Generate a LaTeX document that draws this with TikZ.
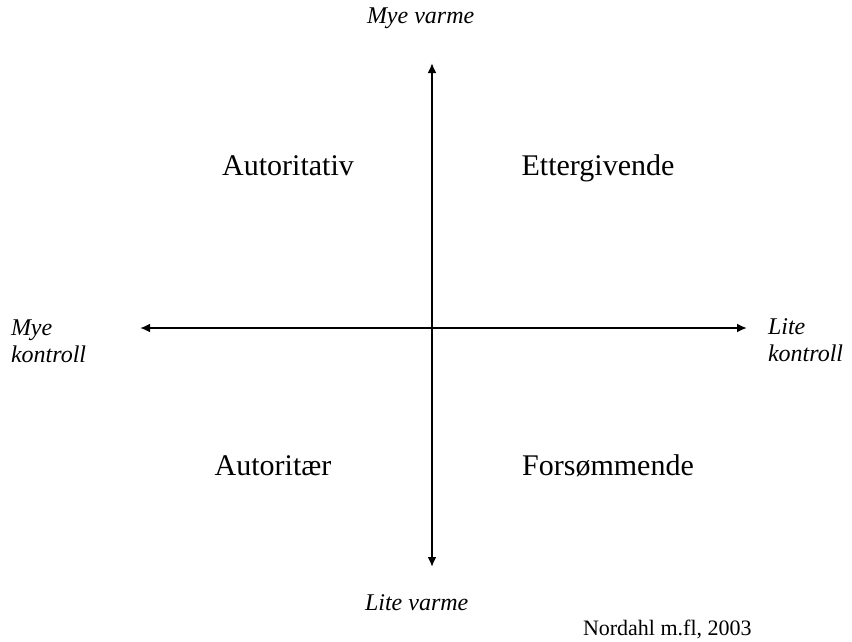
\documentclass[tikz,border=0pt]{standalone}
\usepackage{fontspec}
\setmainfont{Liberation Serif}
\usetikzlibrary{arrows.meta}

\begin{document}
\begin{tikzpicture}[
    x=1pt, y=-1pt,
    every node/.style={inner sep=0pt, outer sep=0pt},
    quadrant/.style={font=\fontsize{30}{36}\selectfont, anchor=base},
    axislabel/.style={font=\fontsize{24}{27}\selectfont\itshape, align=left, anchor=north west},
    poleword/.style={font=\fontsize{24}{25}\selectfont\itshape, anchor=base west},
    source/.style={font=\fontsize{22}{26}\selectfont, anchor=base west},
    axis/.style={{Latex[length=10pt,width=9pt]}-{Latex[length=10pt,width=9pt]}, line width=2pt}
]
\useasboundingbox (0,0) rectangle (852,641);

% axis ends
\coordinate (top) at (432,63);
\coordinate (bottom) at (432,567);
\coordinate (left) at (140,328);
\coordinate (right) at (747,328);

\foreach \src/\dst in {top/bottom, left/right} {
    \draw[axis] (\src) -- (\dst);
}

\node[poleword] (warmhigh) at (367,23) {Mye varme};
\node[poleword] (warmlow) at (365,610) {Lite varme};
\node[axislabel] (ctrlhigh) at (11,320) {Mye\\kontroll};
\node[axislabel] (ctrllow) at (768,319) {Lite\\kontroll};

\node[quadrant] (authoritative) at (288,175) {Autoritativ};
\node[quadrant] (permissive) at (598,175) {Ettergivende};
\node[quadrant] (authoritarian) at (273,475) {Autoritær};
\node[quadrant] (neglectful) at (608,475) {Forsømmende};

\node[source] (ref) at (583,635) {Nordahl m.fl, 2003};

\end{tikzpicture}
\end{document}
